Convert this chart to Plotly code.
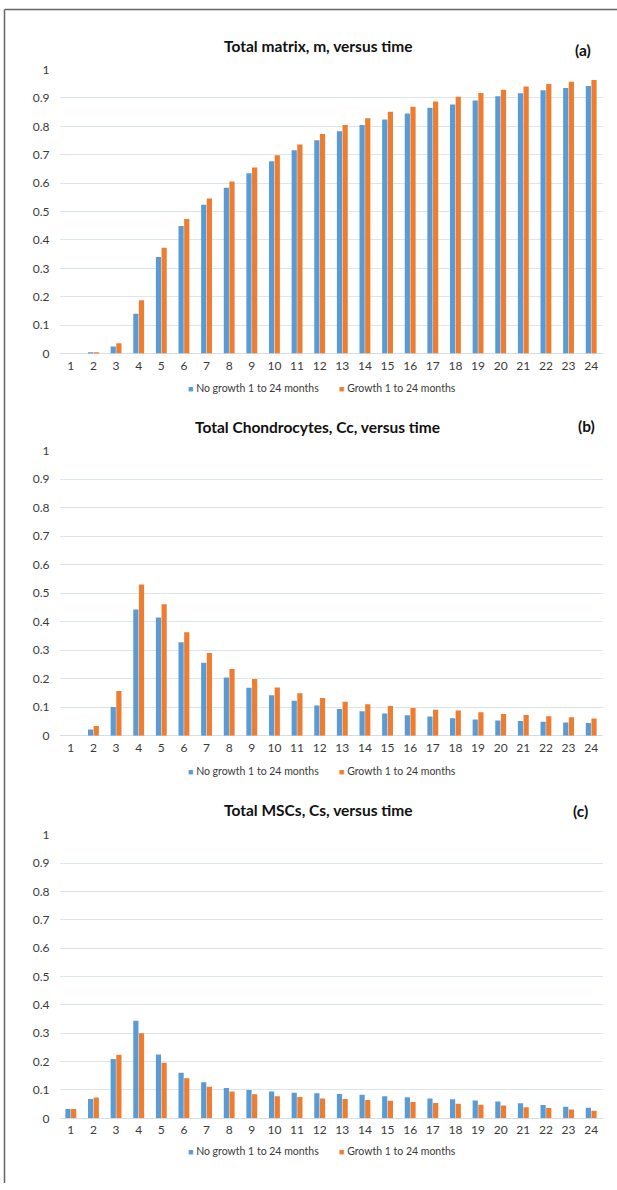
import plotly.graph_objects as go

W, H = 617, 1190

months = [str(i) for i in range(1, 25)]

matrix_no_growth = [0.0, 0.003, 0.025, 0.140, 0.340, 0.449, 0.524, 0.584, 0.635, 0.677,
                    0.716, 0.751, 0.783, 0.805, 0.824, 0.845, 0.865, 0.877, 0.891, 0.906,
                    0.916, 0.927, 0.935, 0.942]
matrix_growth = [0.0, 0.005, 0.036, 0.188, 0.373, 0.474, 0.546, 0.606, 0.655, 0.698,
                 0.736, 0.773, 0.805, 0.828, 0.851, 0.869, 0.887, 0.904, 0.917, 0.929,
                 0.940, 0.949, 0.957, 0.963]

chondro_no_growth = [0.0, 0.022, 0.101, 0.443, 0.415, 0.328, 0.256, 0.204, 0.168, 0.142,
                     0.123, 0.106, 0.094, 0.086, 0.078, 0.072, 0.067, 0.061, 0.057, 0.053,
                     0.052, 0.049, 0.046, 0.045]
chondro_growth = [0.0, 0.034, 0.157, 0.530, 0.461, 0.363, 0.290, 0.234, 0.199, 0.169,
                  0.149, 0.132, 0.119, 0.110, 0.104, 0.097, 0.091, 0.088, 0.082, 0.076,
                  0.073, 0.068, 0.065, 0.060]

msc_no_growth = [0.033, 0.068, 0.209, 0.344, 0.225, 0.161, 0.127, 0.107, 0.100, 0.095,
                 0.090, 0.088, 0.086, 0.083, 0.078, 0.074, 0.070, 0.067, 0.063, 0.059,
                 0.053, 0.047, 0.041, 0.037]
msc_growth = [0.033, 0.073, 0.224, 0.300, 0.196, 0.141, 0.111, 0.095, 0.085, 0.078,
              0.075, 0.070, 0.068, 0.065, 0.062, 0.058, 0.054, 0.051, 0.048, 0.045,
              0.039, 0.036, 0.031, 0.027]

titles = ["Total matrix, m, versus time",
          "Total Chondrocytes, Cc, versus time",
          "Total MSCs, Cs, versus time"]
panel_tags = ["(a)", "(b)", "(c)"]
series_names = ["No growth 1 to 24 months", "Growth 1 to 24 months"]

BLUE = "#5B9BD5"
ORANGE = "#ED7D31"
FONT = "Lato"
TXT = "#3A3A3A"

def px(x):
    return x / W

def py(y):
    return 1 - y / H

panels = [
    dict(data=(matrix_no_growth, matrix_growth), y0=350, y1=62, title_y=38, tag_x=583, tag_y=43, leg_y=385),
    dict(data=(chondro_no_growth, chondro_growth), y0=737, y1=448, title_y=424, tag_x=586, tag_y=423, leg_y=773),
    dict(data=(msc_no_growth, msc_growth), y0=1124.5, y1=837, title_y=812, tag_x=580, tag_y=813, leg_y=1158),
]

fig = go.Figure()
annotations = []
layout = {}
x_dom = [px(59.5), px(602.5)]
leg_x = [186, 337]

for i, p in enumerate(panels):
    suffix = "" if i == 0 else str(i + 1)
    for vals, name, color in zip(p["data"], series_names, [BLUE, ORANGE]):
        fig.add_trace(go.Bar(
            x=months, y=vals, name=name, marker=dict(color=color, line=dict(width=0)),
            xaxis="x" + suffix, yaxis="y" + suffix, showlegend=False,
        ))
    layout["xaxis" + suffix] = dict(
        domain=x_dom, anchor="y" + suffix, type="category",
        showgrid=False, showline=False, ticks="",
        tickfont=dict(family=FONT, size=12, color=TXT), ticklabelstandoff=3,
        fixedrange=True,
    )
    layout["yaxis" + suffix] = dict(
        domain=[py(p["y0"]), py(p["y1"])], anchor="x" + suffix,
        range=[0, 1.001], dtick=0.1, tick0=0,
        showgrid=True, gridcolor="#DCE4EE", gridwidth=1,
        zeroline=True, zerolinecolor="#D6DDE6", zerolinewidth=1,
        showline=False, ticks="",
        tickfont=dict(family=FONT, size=12, color=TXT), ticklabelstandoff=9,
        fixedrange=True,
    )
    # legend entries as text
    for name, color, lx in zip(series_names, [BLUE, ORANGE], leg_x):
        annotations.append(dict(
            text=f"<span style='color:{color};font-size:9px'>■</span> {name}",
            x=px(lx), y=py(p["leg_y"]), xref="paper", yref="paper",
            xanchor="left", yanchor="middle", showarrow=False,
            font=dict(family=FONT, size=10.5, color=TXT),
        ))
    annotations.append(dict(
        text="<b>" + titles[i] + "</b>", x=px(318), y=py(p["title_y"]), xref="paper", yref="paper",
        xanchor="center", yanchor="middle", showarrow=False,
        font=dict(family=FONT, size=15.5, color="#111111"),
    ))
    annotations.append(dict(
        text="<b>" + panel_tags[i] + "</b>", x=px(p["tag_x"]), y=py(p["tag_y"]), xref="paper", yref="paper",
        xanchor="center", yanchor="middle", showarrow=False,
        font=dict(family=FONT, size=15.5, color="#111111"),
    ))

shapes = [
    dict(type="line", xref="paper", yref="paper", x0=px(4.5), x1=px(4.5), y0=py(1.5), y1=0,
         line=dict(color="#666666", width=1.5)),
    dict(type="line", xref="paper", yref="paper", x0=px(4.5), x1=1, y0=py(1.5), y1=py(1.5),
         line=dict(color="#666666", width=1.5)),
]

fig.update_layout(
    width=W, height=H, margin=dict(l=0, r=0, t=0, b=0),
    paper_bgcolor="white", plot_bgcolor="white",
    barmode="group", bargap=0.5, bargroupgap=0.08,
    annotations=annotations, shapes=shapes,
    font=dict(family=FONT, color=TXT),
    **layout,
)

fig.write_html("out.html", config={"displayModeBar": False})
